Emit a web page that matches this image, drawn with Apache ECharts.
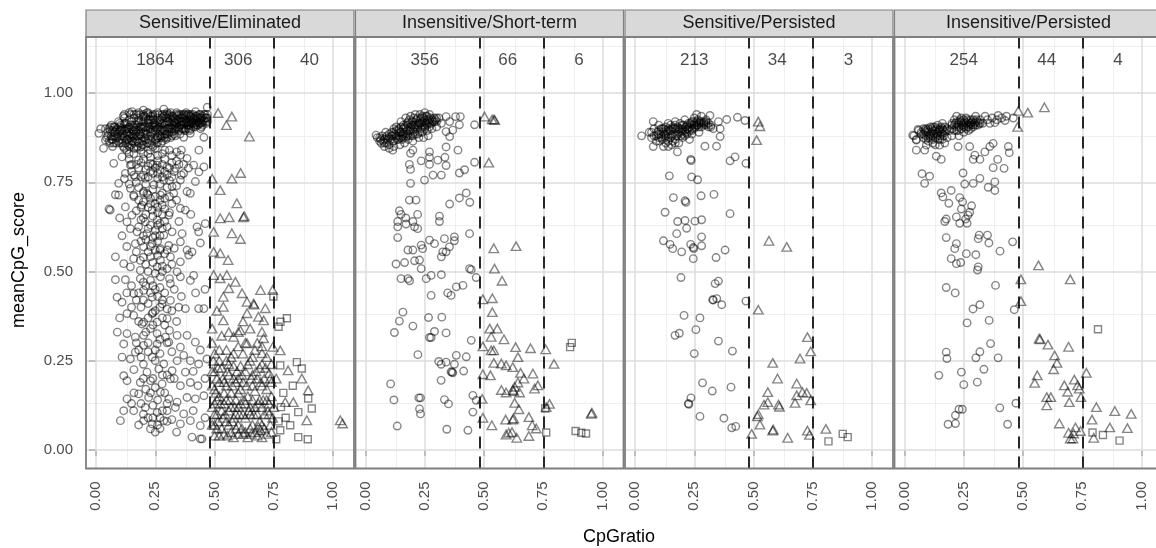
<!DOCTYPE html>
<html>
<head>
<meta charset="utf-8">
<script src="https://cdn.jsdelivr.net/npm/echarts@6/dist/echarts.min.js"></script>
<style>
  html, body { margin: 0; padding: 0; background: #fff; }
  #chart { width: 1156px; height: 548px; }
</style>
</head>
<body>
<div id="chart"></div>
<script>
// facets, counts per CpGratio band, cutoffs
const panelNames = ['Sensitive/Eliminated', 'Insensitive/Short-term', 'Sensitive/Persisted', 'Insensitive/Persisted']
const counts = [['1864', '306', '40'], ['356', '66', '6'], ['213', '34', '3'], ['254', '44', '4']]
const countX = [0.25, 0.6, 0.9]
const countY = 1.093
const cutoffs = [0.48, 0.75]
const xTicks = [0, 0.25, 0.5, 0.75, 1]
const yTicks = [0, 0.25, 0.5, 0.75, 1]
const xMinor = [0.125, 0.375, 0.625, 0.875]
const yMinor = [0.125, 0.375, 0.625, 0.875, 1.125]

// Sensitive/Eliminated  [CpGratio, meanCpG_score]
const elimCircles = [
  [.05,.88],[.06,.895],[.04,.9],[.07,.87],[.08,.905],[.09,.885],[.1,.86],[.11,.9],[.12,.875],[.13,.915],[.14,.89],[.15,.865],[.16,.93],[.17,.905],[.18,.88],[.19,.85],[.2,.92],[.21,.895],[.22,.87],[.23,.935],[.24,.91],[.25,.885],[.26,.86],[.27,.925],[.28,.9],[.29,.875],[.3,.94],[.31,.915],[.32,.89],[.33,.93],[.34,.905],[.35,.94],[.36,.92],[.37,.9],[.38,.935],[.39,.91],[.4,.925],[.41,.94],[.42,.905],[.43,.93],[.44,.915],[.45,.935],[.46,.92],[.47,.93],
  [.055,.865],[.065,.91],[.075,.89],[.085,.875],[.095,.92],[.105,.88],[.115,.935],[.125,.86],[.135,.9],[.145,.94],[.155,.88],[.165,.91],[.175,.865],[.185,.94],[.195,.9],[.205,.875],[.215,.945],[.225,.905],[.235,.865],[.245,.925],[.255,.9],[.265,.94],[.275,.875],[.285,.915],[.295,.93],[.305,.9],[.315,.945],[.325,.92],[.335,.9],[.345,.925],[.355,.91],[.365,.935],[.375,.915],[.385,.94],[.395,.895],[.405,.915],[.415,.93],[.425,.92],[.435,.94],[.445,.905],[.455,.925],[.465,.915],
  [.07,.85],[.09,.9],[.1,.915],[.12,.845],[.13,.885],[.14,.925],[.15,.9],[.16,.875],[.17,.94],[.18,.915],[.19,.89],[.2,.865],[.21,.93],[.22,.9],[.23,.88],[.24,.85],[.25,.94],[.26,.915],[.27,.89],[.28,.93],[.29,.91],[.3,.885],[.31,.93],[.32,.91],[.33,.895],[.34,.94],[.36,.9],[.37,.93],[.38,.915],[.39,.94],[.4,.9],[.42,.935],[.44,.93],[.46,.94],
  [.1,.895],[.11,.87],[.12,.93],[.13,.9],[.14,.865],[.15,.92],[.16,.895],[.17,.88],[.18,.93],[.19,.905],[.2,.89],[.21,.87],[.22,.925],[.23,.9],[.24,.895],[.25,.91],[.26,.93],[.27,.905],[.28,.88],[.29,.94],[.3,.92],[.31,.9],[.32,.935],[.33,.91],[.35,.92],[.36,.93],[.37,.915],[.38,.9],[.4,.935],[.41,.915],
  [.045,.875],[.055,.9],[.065,.88],[.075,.905],[.085,.86],[.095,.89],[.105,.91],[.115,.885],[.125,.9],[.135,.87],[.145,.91],[.155,.895],[.165,.87],[.175,.92],[.185,.885],[.195,.865],[.205,.935],[.215,.885],[.225,.915],[.235,.89],[.245,.905],[.255,.87],[.265,.92],[.275,.895],[.285,.935],[.295,.885],[.305,.92],[.315,.905],[.325,.935],[.335,.915],[.345,.9],[.355,.93],[.365,.9],[.375,.94],[.385,.92],[.395,.935],[.405,.93],[.415,.91],[.425,.935],[.435,.915],[.445,.93],[.455,.94],[.465,.93],
  [.06,.86],[.08,.88],[.1,.87],[.12,.915],[.14,.905],[.16,.86],[.18,.895],[.2,.905],[.22,.915],[.24,.94],[.26,.875],[.28,.915],[.3,.9],[.32,.925],[.34,.915],[.36,.94],[.38,.925],[.4,.915],[.42,.925],[.44,.94],[.11,.86],[.13,.87],[.15,.855],[.17,.89],[.19,.925],[.21,.905],[.23,.925],[.25,.87],[.27,.915],[.29,.895],[.31,.94],[.33,.92],[.35,.905],[.37,.94],[.39,.92],[.41,.905],[.43,.92],[.45,.91],[.47,.92],[.16,.845],[.2,.855],[.22,.86],[.26,.875],[.28,.865],[.18,.86],[.14,.85],[.3,.875],[.32,.88],
  [.05,.89],[.07,.895],[.09,.875],[.11,.895],[.13,.89],[.15,.885],[.17,.895],[.19,.88],[.21,.885],[.23,.89],[.25,.895],[.27,.88],[.29,.885],[.31,.89],[.33,.885],[.35,.895],[.37,.91],[.39,.9],[.41,.925],[.43,.91],[.45,.92],[.47,.94],
  [.06,.905],[.08,.89],[.1,.905],[.12,.895],[.14,.88],[.16,.905],[.18,.92],[.2,.935],[.22,.94],[.24,.925],[.26,.9],[.28,.94],[.3,.93],[.32,.9],[.34,.925],[.36,.91],[.38,.945],[.4,.94],[.42,.915],[.44,.925],[.46,.93],
  [.065,.87],[.085,.895],[.105,.895],[.125,.915],[.145,.875],[.165,.885],[.185,.905],[.205,.905],[.225,.925],[.245,.915],[.265,.905],[.285,.895],[.305,.935],[.325,.9],[.345,.935],[.365,.92],[.385,.91],[.405,.92],[.425,.91],[.445,.915],
  [.075,.86],[.095,.865],[.115,.85],[.135,.855],[.155,.865],[.175,.85],[.195,.855],[.215,.86],[.235,.855],[.255,.86],[.275,.86],[.295,.87],[.315,.875],[.335,.88],[.355,.885],[.375,.895],[.395,.91],
  [.12,.94],[.14,.945],[.18,.945],[.22,.945],[.26,.945],[.3,.945],[.34,.945],[.24,.935],[.16,.94],[.2,.94],
  [.02,.9],[.012,.887],[.04,.868],[.032,.845],[.075,.803],[.152,.948],[.2,.952],[.286,.955],[.42,.948],[.469,.96],[.441,.9],[.455,.876],[.398,.887],[.37,.876],[.434,.84],[.356,.826],[.384,.817],[.412,.798],[.455,.793],[.434,.779],[.37,.775],[.335,.789],[.3,.793],[.258,.798],[.23,.803],[.18,.812],[.145,.798],[.11,.821],[.124,.775],[.166,.765],[.208,.761],[.286,.756],[.356,.756],[.419,.752],[.096,.747],[.145,.733],[.201,.724],[.244,.743],[.321,.738],[.384,.724],[.082,.715],
  [.13,.84],[.16,.83],[.19,.84],[.22,.83],[.25,.845],[.28,.83],[.31,.84],[.34,.835],[.14,.815],[.17,.8],[.2,.815],[.23,.82],[.26,.81],[.29,.815],[.32,.805],[.35,.8],[.15,.78],[.18,.79],[.21,.785],[.24,.775],[.27,.785],[.3,.77],[.33,.78],[.39,.79],[.12,.76],[.17,.75],[.22,.765],[.26,.76],[.31,.755],[.24,.8],[.2,.77],[.28,.765],
  [.14,.83],[.17,.845],[.2,.83],[.23,.84],[.26,.825],[.29,.84],[.32,.825],[.36,.84],[.15,.8],[.19,.805],[.22,.795],[.25,.79],[.28,.8],[.31,.79],[.34,.81],[.37,.8],[.16,.77],[.19,.765],[.23,.78],[.26,.775],[.29,.78],[.32,.765],[.36,.77],[.14,.745],[.18,.735],[.21,.745],[.24,.73],[.27,.745],[.3,.735],[.34,.74],[.16,.71],[.2,.72],[.22,.715],[.25,.71],[.28,.72],[.31,.71],
  [.096,.714],[.159,.714],[.215,.719],[.272,.714],[.328,.719],[.398,.719],[.06,.672],[.055,.675],[.124,.681],[.152,.658],[.194,.686],[.237,.672],[.279,.686],[.307,.658],[.356,.677],[.377,.672],[.208,.639],[.258,.644],[.131,.639],[.145,.62],[.173,.611],[.215,.606],[.25,.616],[.286,.602],[.321,.611],[.363,.606],[.426,.625],[.461,.634],[.433,.611],[.166,.578],[.201,.569],[.237,.578],[.272,.564],[.307,.573],[.356,.583],[.384,.56],[.405,.555],[.082,.541],[.117,.522],[.159,.536],[.187,.531],[.23,.541],[.272,.531],[.314,.541],[.356,.527],[.391,.546],[.258,.513],[.187,.503],[.342,.499],[.3,.508],[.145,.513],
  [.18,.7],[.2,.695],[.23,.705],[.25,.69],[.27,.7],[.29,.705],[.17,.67],[.21,.66],[.22,.68],[.26,.665],[.29,.675],[.32,.69],[.19,.645],[.23,.63],[.27,.635],[.3,.625],[.18,.625],[.2,.6],[.24,.595],[.26,.585],[.28,.62],[.19,.585],[.22,.555],[.25,.56],[.29,.55],[.33,.565],[.21,.52],[.24,.525],[.28,.515],[.32,.52],[.17,.555],[.13,.57],[.11,.6],[.35,.64],[.4,.66],[.44,.58],[.1,.65],[.34,.7],
  [.19,.68],[.23,.69],[.26,.68],[.28,.66],[.31,.665],[.2,.65],[.24,.655],[.22,.62],[.26,.63],[.29,.64],[.21,.59],[.25,.6],[.27,.6],[.23,.57],[.27,.56],[.2,.54],[.26,.545],[.3,.56],[.22,.5],[.25,.495],[.28,.5],
  [.082,.477],[.124,.477],[.187,.48],[.23,.475],[.272,.485],[.314,.466],[.356,.485],[.398,.475],[.412,.489],[.089,.428],[.11,.414],[.159,.438],[.201,.447],[.237,.428],[.279,.409],[.314,.419],[.349,.4],[.377,.396],[.433,.396],[.455,.396],[.131,.382],[.159,.377],[.237,.382],[.24,.385],[.201,.358],[.258,.358],[.3,.368],[.194,.353],
  [.15,.46],[.21,.46],[.25,.45],[.29,.44],[.33,.45],[.17,.42],[.22,.41],[.26,.43],[.3,.395],[.19,.4],[.13,.44],[.36,.43],[.42,.44],[.46,.45],[.1,.37],[.28,.37],[.34,.36],
  [.2,.47],[.24,.46],[.27,.455],[.31,.48],[.18,.44],[.23,.44],[.28,.42],[.2,.42],[.25,.39],[.22,.37],[.27,.4],[.32,.39],[.15,.4],[.18,.36],[.24,.35],[.29,.35],
  [.131,.326],[.166,.316],[.201,.321],[.258,.326],[.293,.316],[.342,.321],[.384,.321],[.117,.297],[.201,.293],[.258,.297],[.307,.302],[.356,.288],[.419,.302],[.11,.26],[.145,.255],[.166,.274],[.237,.26],[.286,.241],[.342,.25],[.398,.25],[.433,.241],[.468,.255],[.215,.218],[.265,.227],[.321,.222],[.377,.218],
  [.23,.34],[.31,.335],[.18,.28],[.22,.275],[.27,.27],[.32,.275],[.37,.265],[.44,.28],[.2,.24],[.25,.25],[.16,.225],[.3,.21],[.41,.22],[.46,.2],[.09,.33],
  [.21,.33],[.27,.31],[.22,.3],[.3,.3],[.17,.3],[.25,.28],[.19,.26],[.24,.2],[.28,.21],[.33,.2],[.2,.2],
  [.117,.208],[.131,.194],[.187,.189],[.23,.194],[.279,.185],[.314,.199],[.356,.18],[.398,.189],[.18,.157],[.222,.147],[.272,.162],[.307,.143],[.342,.134],[.384,.147],[.419,.143],[.455,.152],[.131,.143],[.117,.11],[.159,.11],[.208,.119],[.258,.105],[.3,.11],[.335,.119],[.37,.101],[.103,.082],[.201,.082],[.237,.073],[.286,.082],[.356,.073],[.398,.082],[.44,.068],[.25,.05],[.23,.059],[.405,.036],[.44,.031],[.447,.031],
  [.21,.17],[.25,.175],[.16,.16],[.29,.16],[.43,.18],[.2,.1],[.24,.125],[.27,.09],[.32,.085],[.22,.09],[.18,.07],[.27,.06],[.34,.05],[.46,.09],[.41,.11],[.15,.13],
  [.19,.13],[.26,.14],[.3,.13],[.23,.16],[.28,.11],[.24,.09],[.3,.08],[.26,.07]
]
const elimTriangles = [
  [.515,.944],[.573,.934],[.55,.91],[.647,.878],[.61,.776],[.573,.76],[.524,.728],[.49,.76],[.594,.691],[.524,.649],[.562,.652],[.622,.652],[.625,.655],[.496,.611],[.573,.607],[.609,.591],[.496,.555],[.524,.551],[.557,.532],[.496,.49],[.524,.481],[.552,.49],[.588,.471],[.56,.453],[.616,.439],[.694,.448],[.745,.448],[.537,.429],[.637,.415],[.664,.41],[.667,.407],[.714,.397],[.537,.401],[.637,.383],[.685,.373],[.707,.363],[.537,.363],[.609,.335],[.7,.331],[.707,.313],[.58,.317],[.637,.299],[.746,.289],[.7,.271],
  [.49,.3],[.5,.27],[.52,.25],[.55,.28],[.57,.26],[.6,.29],[.62,.27],[.65,.25],[.67,.28],[.72,.26],[.74,.24],[.49,.22],[.51,.2],[.53,.23],[.56,.21],[.58,.235],[.6,.2],[.63,.22],[.66,.21],[.69,.23],[.71,.2],[.73,.215],[.5,.17],[.52,.15],[.55,.18],[.57,.16],[.59,.14],[.61,.17],[.64,.15],[.67,.165],[.69,.14],[.72,.17],[.74,.15],[.49,.12],[.51,.1],[.54,.13],[.56,.11],[.58,.09],[.6,.12],[.62,.1],[.65,.12],[.68,.1],[.7,.12],[.73,.1],[.75,.12],[.5,.07],[.53,.06],[.55,.08],[.57,.05],[.6,.07],[.63,.05],[.66,.07],[.68,.04],[.71,.06],[.74,.05],[.52,.04],[.58,.035],[.64,.035],[.7,.035],[.5,.13],[.63,.13],[.66,.14],[.59,.19],[.61,.235],[.54,.19],[.7,.18],[.68,.3],[.53,.32],[.56,.33],[.49,.34],[.51,.39],[.62,.36],
  [.5,.22],[.52,.19],[.54,.16],[.56,.24],[.58,.2],[.6,.16],[.62,.19],[.64,.24],[.66,.18],[.68,.2],[.7,.24],[.72,.14],[.74,.19],[.51,.14],[.53,.11],[.55,.14],[.57,.12],[.59,.1],[.61,.13],[.63,.09],[.65,.1],[.67,.12],[.69,.08],[.71,.1],[.73,.13],[.51,.06],[.54,.045],[.56,.07],[.59,.06],[.62,.045],[.65,.06],[.67,.05],[.7,.07],[.72,.045],[.55,.25],[.58,.27],[.63,.3],[.66,.26],[.7,.29],[.6,.33],[.65,.34],[.52,.28],[.49,.18],[.49,.07],[.5,.04],
  [.495,.25],[.515,.23],[.535,.2],[.555,.22],[.575,.18],[.595,.22],[.615,.21],[.635,.18],[.655,.2],[.675,.22],[.695,.19],[.715,.23],[.735,.2],[.505,.16],[.525,.13],[.545,.1],[.565,.14],[.585,.12],[.605,.1],[.625,.14],[.645,.11],[.665,.1],[.685,.13],[.705,.14],[.725,.11],[.745,.09],[.515,.08],[.535,.09],[.575,.08],[.615,.06],[.655,.045],[.695,.055],[.735,.07],[.555,.04],[.6,.045],[.685,.065],[.5,.1],
  [.81,.223],[.868,.2],[.895,.167],[.889,.083],[.798,.134],[.832,.134],[1.03,.083],[1.04,.074],[.777,.279],[.76,.2]
]
const elimSquares = [
  [.748,.43],[.778,.359],[.805,.369],[.77,.345],[.777,.237],[.847,.246],[.868,.228],[.895,.144],[.91,.116],[.853,.106],[.819,.069],[.853,.036],[.893,.03],[.777,.055],[.78,.12],[.8,.09],[.76,.03],[.83,.18],[.79,.16],[.77,.08]
]

// Insensitive/Short-term
const shortCircles = [
  [.05,.875],[.06,.865],[.07,.88],[.08,.87],[.085,.89],[.09,.86],[.1,.875],[.11,.89],[.115,.865],[.12,.9],[.13,.88],[.135,.87],[.14,.895],[.15,.905],[.155,.88],[.16,.89],[.17,.9],[.175,.915],[.18,.885],[.19,.905],[.195,.92],[.2,.895],[.21,.91],[.215,.925],[.22,.9],[.23,.915],[.235,.93],[.24,.905],[.25,.92],[.255,.935],[.26,.91],[.27,.925],[.28,.915],[.29,.93],[.3,.92],[.31,.93],[.1,.855],[.12,.865],[.14,.87],[.16,.875],[.18,.87],[.2,.88],[.22,.885],[.24,.89],[.26,.895],[.28,.9],[.3,.905],[.13,.905],[.15,.92],[.17,.93],[.19,.935],[.21,.94],[.23,.94],[.25,.945],[.27,.94],[.165,.86],[.2,.865],[.08,.85],[.12,.85],[.145,.855],[.225,.875],[.265,.88],[.245,.875],[.185,.925],[.205,.93],[.32,.915],
  [.06,.875],[.075,.865],[.09,.88],[.105,.87],[.125,.885],[.14,.88],[.16,.9],[.17,.885],[.185,.895],[.2,.91],[.21,.9],[.225,.915],[.24,.92],[.25,.905],[.27,.915],[.285,.92],[.3,.93],[.11,.88],[.13,.895],[.15,.89],[.165,.905],[.18,.91],[.195,.91],[.215,.915],[.23,.925],[.245,.93],[.26,.925],[.275,.93],[.29,.92],[.095,.87],[.155,.87],[.175,.88],[.205,.89],[.235,.9],[.255,.915],
  [.065,.87],[.085,.875],[.1,.885],[.115,.88],[.13,.875],[.145,.89],[.16,.885],[.175,.895],[.19,.895],[.205,.905],[.22,.91],[.235,.915],[.25,.91],[.265,.92],[.28,.925],[.295,.925],[.12,.89],[.14,.9],[.16,.91],[.18,.92],[.2,.92],[.22,.93],[.24,.935],[.26,.935],[.15,.875],[.17,.875],[.19,.88],[.21,.885],[.23,.89],[.25,.9],[.27,.905],[.08,.86],
  [.045,.882],[.067,.859],[.1,.845],[.115,.84],[.34,.934],[.38,.934],[.4,.934],[.396,.911],[.355,.92],[.368,.896],[.34,.892],[.355,.878],[.46,.911],[.2,.84],[.19,.831],[.235,.81],[.27,.835],[.27,.82],[.34,.849],[.39,.84],[.335,.82],[.185,.8],[.19,.786],[.27,.8],[.305,.812],[.34,.797],[.396,.776],[.418,.785],[.46,.806],[.285,.77],[.32,.77],[.249,.756],[.19,.747],[.396,.706],[.425,.72],[.44,.694],[.355,.689],[.185,.7],[.213,.7],[.143,.67],[.15,.66],[.312,.655],[.22,.66],[.2,.64],[.17,.65],[.136,.64],
  [.136,.625],[.171,.633],[.207,.625],[.22,.62],[.312,.64],[.136,.595],[.27,.588],[.235,.574],[.291,.578],[.333,.592],[.375,.597],[.375,.586],[.439,.606],[.179,.56],[.2,.56],[.241,.564],[.326,.555],[.34,.555],[.354,.569],[.32,.541],[.129,.521],[.165,.525],[.207,.53],[.228,.532],[.235,.508],[.439,.508],[.446,.505],[.15,.48],[.179,.48],[.186,.474],[.256,.48],[.277,.489],[.32,.491],[.467,.483],[.383,.457],[.411,.461],[.277,.433],[.347,.44],[.361,.433],[.158,.386],[.143,.361],[.2,.347],[.266,.371],[.322,.372],[.291,.332],[.27,.315],[.277,.315],[.34,.328],[.122,.329],[.446,.307],[.221,.267],[.383,.265],[.425,.261],[.309,.248],[.319,.24],[.34,.246],[.368,.216],[.365,.218],[.361,.219],[.414,.221],[.375,.24],[.106,.185],[.319,.195],[.453,.153],[.467,.139],[.12,.14],[.225,.146],[.232,.146],[.333,.141],[.35,.129],[.228,.115],[.232,.101],[.453,.106],[.134,.067],[.343,.058],[.432,.055]
]
const shortTriangles = [
  [.502,.934],[.534,.926],[.542,.926],[.545,.924],[.52,.805],[.541,.565],[.635,.571],[.544,.508],[.576,.474],[.495,.422],[.535,.425],[.535,.386],[.524,.34],[.556,.34],[.53,.317],[.584,.31],[.495,.29],[.53,.279],[.541,.279],[.633,.288],[.696,.285],[.76,.282],[.643,.26],[.541,.244],[.573,.242],[.593,.237],[.621,.232],[.795,.241],[.495,.212],[.527,.209],[.654,.216],[.706,.214],[.668,.2],[.643,.189],[.629,.177],[.573,.168],[.593,.161],[.621,.168],[.625,.165],[.65,.161],[.727,.181],[.713,.172],[.492,.143],[.629,.132],[.776,.129],[.762,.12],[.647,.114],[.495,.09],[.533,.069],[.591,.085],[.621,.085],[.625,.088],[.689,.092],[.703,.069],[.72,.06],[.593,.043],[.604,.048],[.618,.05],[.638,.034],[.689,.039],[.952,.101],[.955,.104]
]
const shortSquares = [[.87,.3],[.863,.288],[.758,.116],[.762,.049],[.886,.053],[.91,.048],[.93,.046]]

// Sensitive/Persisted
const sensCircles = [
  [.06,.89],[.07,.875],[.08,.9],[.09,.865],[.1,.885],[.11,.9],[.115,.87],[.12,.89],[.13,.905],[.14,.875],[.145,.895],[.15,.91],[.16,.885],[.165,.9],[.17,.87],[.18,.905],[.185,.89],[.19,.915],[.2,.895],[.205,.91],[.21,.88],[.22,.9],[.225,.915],[.23,.895],[.24,.91],[.245,.92],[.25,.9],[.26,.915],[.265,.925],[.27,.905],[.28,.915],[.29,.92],[.3,.91],[.31,.915],[.32,.905],[.13,.86],[.16,.865],[.2,.875],[.24,.885],[.27,.89],[.1,.91],[.14,.915],[.17,.92],[.21,.925],[.25,.93],[.155,.855],[.12,.85],[.185,.86],[.23,.87],[.3,.925],[.33,.9],[.125,.875],[.195,.88],[.105,.865],[.28,.935],[.26,.94],
  [.09,.88],[.1,.895],[.11,.885],[.12,.9],[.135,.89],[.15,.895],[.16,.905],[.175,.895],[.18,.885],[.19,.9],[.21,.895],[.215,.905],[.23,.905],[.235,.915],[.25,.915],[.255,.905],[.27,.915],[.275,.92],[.29,.91],[.3,.915],[.14,.9],[.13,.88],[.17,.91],[.2,.91],[.22,.885],[.24,.9],[.26,.92],[.28,.905],[.115,.9],[.155,.88],[.195,.89],[.31,.905],
  [.07,.89],[.08,.88],[.095,.89],[.11,.875],[.125,.885],[.14,.885],[.155,.9],[.17,.9],[.185,.9],[.2,.9],[.215,.89],[.225,.9],[.24,.895],[.25,.91],[.265,.91],[.28,.92],[.29,.915],[.13,.895],[.15,.875],[.175,.88],[.2,.885],[.22,.91],[.24,.92],[.26,.91],[.3,.92],[.32,.91],[.1,.875],[.14,.865],[.17,.86],
  [.028,.88],[.077,.92],[.077,.85],[.141,.85],[.179,.835],[.295,.851],[.344,.851],[.359,.878],[.316,.937],[.352,.92],[.387,.926],[.432,.932],[.464,.923],[.359,.9],[.235,.814],[.237,.811],[.401,.81],[.422,.821],[.468,.803],[.145,.768],[.239,.765],[.264,.757],[.162,.707],[.211,.698],[.215,.694],[.279,.712],[.333,.716],[.127,.666],[.401,.662],[.211,.643],[.253,.641],[.281,.645],[.18,.64],
  [.176,.606],[.218,.621],[.12,.586],[.148,.576],[.159,.564],[.197,.555],[.235,.576],[.246,.567],[.248,.564],[.281,.597],[.281,.572],[.246,.536],[.342,.539],[.38,.56],[.194,.483],[.338,.466],[.352,.473],[.328,.421],[.33,.42],[.345,.424],[.366,.407],[.468,.417],[.207,.377],[.274,.37],[.257,.337],[.169,.321],[.187,.327],[.352,.305],[.411,.277],[.25,.27],[.285,.188],[.326,.165],[.405,.176],[.236,.146],[.225,.13],[.227,.128],[.274,.094],[.375,.089],[.408,.062],[.425,.066]
]
const sensTriangles = [
  [.52,.92],[.527,.907],[.513,.868],[.565,.586],[.64,.569],[.52,.393],[.727,.316],[.741,.276],[.696,.256],[.581,.244],[.601,.2],[.682,.186],[.706,.162],[.724,.16],[.682,.153],[.56,.162],[.741,.139],[.675,.132],[.544,.127],[.56,.134],[.605,.127],[.609,.121],[.516,.094],[.527,.071],[.581,.054],[.492,.045],[.644,.034],[.727,.054],[.736,.042],[.805,.059],[.52,.1],[.583,.057]
]
const sensSquares = [[.876,.045],[.897,.036],[.816,.024]]

// Insensitive/Persisted
const insCircles = [
  [.04,.88],[.06,.895],[.05,.87],[.07,.885],[.08,.9],[.09,.87],[.1,.89],[.11,.905],[.12,.88],[.13,.895],[.14,.87],[.15,.9],[.16,.885],[.17,.905],[.18,.875],[.1,.865],[.12,.905],[.14,.91],[.16,.915],[.18,.9],[.13,.875],[.09,.9],[.19,.895],[.2,.91],[.21,.925],[.22,.905],[.23,.92],[.24,.9],[.25,.915],[.26,.93],[.27,.91],[.28,.925],[.29,.905],[.3,.92],[.31,.91],[.32,.925],[.33,.915],[.22,.935],[.24,.93],[.26,.905],[.28,.91],[.3,.935],[.25,.89],[.21,.895],[.23,.88],[.27,.895],[.15,.88],[.11,.875],[.17,.86],[.13,.855],[.2,.88],[.35,.925],[.37,.93],[.34,.935],[.36,.915],[.39,.925],[.41,.93],[.43,.935],[.115,.89],[.165,.895],
  [.08,.885],[.09,.89],[.1,.9],[.11,.885],[.12,.895],[.13,.905],[.14,.89],[.15,.895],[.16,.9],[.17,.89],[.1,.875],[.12,.87],[.14,.88],[.16,.87],[.21,.91],[.22,.92],[.23,.905],[.24,.915],[.25,.925],[.26,.915],[.27,.92],[.28,.915],[.29,.925],[.3,.91],[.31,.92],[.2,.9],[.22,.895],[.24,.92],[.26,.9],[.28,.9],[.32,.915],[.085,.895],[.135,.885],[.155,.905],
  [.07,.89],[.08,.875],[.09,.88],[.095,.895],[.105,.88],[.115,.9],[.125,.885],[.135,.9],[.145,.895],[.155,.89],[.165,.88],[.175,.895],[.12,.86],[.15,.87],[.2,.915],[.215,.915],[.225,.91],[.235,.925],[.245,.91],[.255,.92],[.265,.925],[.275,.915],[.285,.92],[.295,.915],[.305,.925],[.315,.915],[.23,.895],[.27,.905],[.29,.91],[.25,.905],
  [.035,.882],[.057,.898],[.05,.868],[.092,.854],[.085,.84],[.05,.84],[.395,.937],[.424,.923],[.459,.93],[.381,.917],[.438,.85],[.442,.833],[.374,.859],[.36,.85],[.339,.835],[.297,.826],[.29,.814],[.318,.814],[.275,.85],[.226,.85],[.148,.854],[.134,.823],[.155,.814],[.393,.814],[.42,.789],[.374,.791],[.247,.776],[.074,.774],[.106,.767],[.085,.747],[.29,.747],[.318,.761],[.254,.745],[.381,.751],[.353,.736],[.381,.727],[.155,.72],[.162,.709],[.197,.727],[.187,.691],[.233,.707],[.245,.695],[.283,.684],[.24,.675],[.275,.666],[.176,.647],[.219,.653],[.258,.647],[.268,.658],
  [.17,.64],[.233,.635],[.264,.635],[.176,.595],[.311,.592],[.315,.602],[.35,.602],[.356,.58],[.219,.578],[.212,.564],[.261,.55],[.301,.547],[.403,.557],[.456,.583],[.197,.536],[.219,.522],[.237,.525],[.311,.513],[.308,.504],[.176,.455],[.214,.44],[.384,.461],[.289,.395],[.318,.407],[.463,.393],[.264,.356],[.357,.363],[.363,.298],[.176,.274],[.179,.256],[.318,.275],[.301,.258],[.395,.258],[.145,.209],[.24,.218],[.335,.226],[.25,.183],[.307,.19],[.47,.131],[.402,.118],[.23,.114],[.244,.114],[.215,.097],[.184,.072],[.215,.074],[.435,.072]
]
const insTriangles = [
  [.48,.95],[.52,.945],[.59,.96],[.477,.905],[.565,.517],[.491,.478],[.699,.478],[.491,.417],[.568,.312],[.572,.31],[.605,.295],[.692,.289],[.633,.265],[.643,.244],[.629,.226],[.767,.216],[.56,.209],[.549,.188],[.716,.197],[.73,.181],[.674,.181],[.737,.172],[.688,.163],[.6,.148],[.617,.148],[.744,.148],[.695,.134],[.6,.125],[.809,.12],[.887,.109],[.956,.101],[.791,.085],[.653,.074],[.721,.063],[.742,.053],[.866,.063],[.94,.061],[.692,.048],[.713,.046],[.699,.032],[.71,.032],[.798,.034]
]
const insSquares = [[.816,.338],[.793,.049],[.837,.042],[.907,.026]]

const circles = [elimCircles, shortCircles, sensCircles, insCircles]
const triangles = [elimTriangles, shortTriangles, sensTriangles, insTriangles]
const squares = [elimSquares, shortSquares, sensSquares, insSquares]

// layout
const FONT = 'Liberation Sans, Arial, sans-serif'
const lefts = [86, 355.5, 625, 894.5]
const W = 268, TOP = 37, H = 431.5, STRIP = 27

const hollow = { color: 'rgba(0,0,0,0)', borderColor: 'rgba(0,0,0,0.6)', borderWidth: 1.4 }
const major = { type: 'solid', color: '#dcdcdc', width: 1.5 }
const minor = { type: 'solid', color: '#efefef', width: 1 }

let chart = echarts.init(document.getElementById('chart'))

let grids = [], xAxes = [], yAxes = [], series = [], graphics = []
lefts.forEach(function (left, i) {
  grids.push({ left: left, top: TOP, width: W, height: H, containLabel: false, outerBoundsMode: 'none' })
  xAxes.push({
    type: 'value', gridIndex: i, min: -0.042, max: 1.088,
    axisLine: { show: false },
    splitLine: { show: false },
    axisTick: { show: true, length: 6, customValues: xTicks, lineStyle: { color: '#333', width: 1.5 } },
    axisLabel: {
      show: true, rotate: 90, margin: 13, customValues: xTicks,
      formatter: function (v) { return v.toFixed(2) },
      fontFamily: FONT, fontSize: 15, color: '#4d4d4d'
    }
  })
  yAxes.push({
    type: 'value', gridIndex: i, min: -0.052, max: 1.157,
    axisLine: { show: false },
    splitLine: { show: false },
    axisTick: { show: i === 0, length: 7, customValues: yTicks, lineStyle: { color: '#333', width: 1.5 } },
    axisLabel: {
      show: i === 0, margin: 13, customValues: yTicks,
      formatter: function (v) { return v.toFixed(2) },
      fontFamily: FONT, fontSize: 15, color: '#4d4d4d'
    }
  })
  // count labels + background grid lines
  series.push({
    type: 'scatter', xAxisIndex: i, yAxisIndex: i, silent: true, z: 1,
    symbolSize: 1, itemStyle: { color: 'rgba(0,0,0,0)' },
    label: { show: true, position: 'inside', formatter: '{b}', fontFamily: FONT, fontSize: 17, color: '#1a1a1a' },
    data: counts[i].map(function (c, k) { return { name: c, value: [countX[k], countY] } }),
    markLine: {
      silent: true, z: 1, symbol: 'none', animation: false, label: { show: false },
      data: [].concat(
        xMinor.map(function (v) { return { xAxis: v, lineStyle: minor } }),
        yMinor.map(function (v) { return { yAxis: v, lineStyle: minor } }),
        xTicks.map(function (v) { return { xAxis: v, lineStyle: major } }),
        yTicks.map(function (v) { return { yAxis: v, lineStyle: major } })
      )
    }
  })
  series.push({
    type: 'scatter', xAxisIndex: i, yAxisIndex: i, silent: true, z: 2,
    symbol: 'circle', symbolSize: 7.5, itemStyle: hollow, data: circles[i]
  })
  series.push({
    type: 'scatter', xAxisIndex: i, yAxisIndex: i, silent: true, z: 2,
    symbol: 'triangle', symbolSize: [9.5, 8.5], itemStyle: hollow, data: triangles[i]
  })
  series.push({
    type: 'scatter', xAxisIndex: i, yAxisIndex: i, silent: true, z: 2,
    symbol: 'rect', symbolSize: 7, itemStyle: hollow, data: squares[i],
    markLine: {
      silent: true, z: 5, symbol: 'none', animation: false, label: { show: false },
      lineStyle: { type: [12, 8], color: '#111', width: 1.8 },
      data: cutoffs.map(function (v) { return { xAxis: v } })
    }
  })
  // strip and panel border
  graphics.push({
    type: 'rect', z: 100, shape: { x: left, y: TOP - STRIP, width: W, height: STRIP },
    style: { fill: '#d9d9d9', stroke: '#808080', lineWidth: 1.2 }
  })
  graphics.push({
    type: 'text', z: 101, x: left + W / 2, y: TOP - STRIP / 2,
    style: { text: panelNames[i], font: '18px ' + FONT, fill: '#1a1a1a', textAlign: 'center', textVerticalAlign: 'middle' }
  })
  graphics.push({
    type: 'rect', z: 100, shape: { x: left, y: TOP, width: W, height: H },
    style: { fill: 'none', stroke: '#7f7f7f', lineWidth: 1.8 }
  })
})

graphics.push({
  type: 'text', z: 101, x: 619, y: 537,
  style: { text: 'CpGratio', font: '18px ' + FONT, fill: '#000', textAlign: 'center', textVerticalAlign: 'middle' }
})
graphics.push({
  type: 'text', z: 101, x: 19, y: 260, rotation: Math.PI / 2,
  style: { text: 'meanCpG_score', font: '18px ' + FONT, fill: '#000', textAlign: 'center', textVerticalAlign: 'middle' }
})

let option = {
  animation: false,
  backgroundColor: '#fff',
  grid: grids,
  xAxis: xAxes,
  yAxis: yAxes,
  series: series,
  graphic: graphics
}
chart.setOption(option)
</script>
</body>
</html>
